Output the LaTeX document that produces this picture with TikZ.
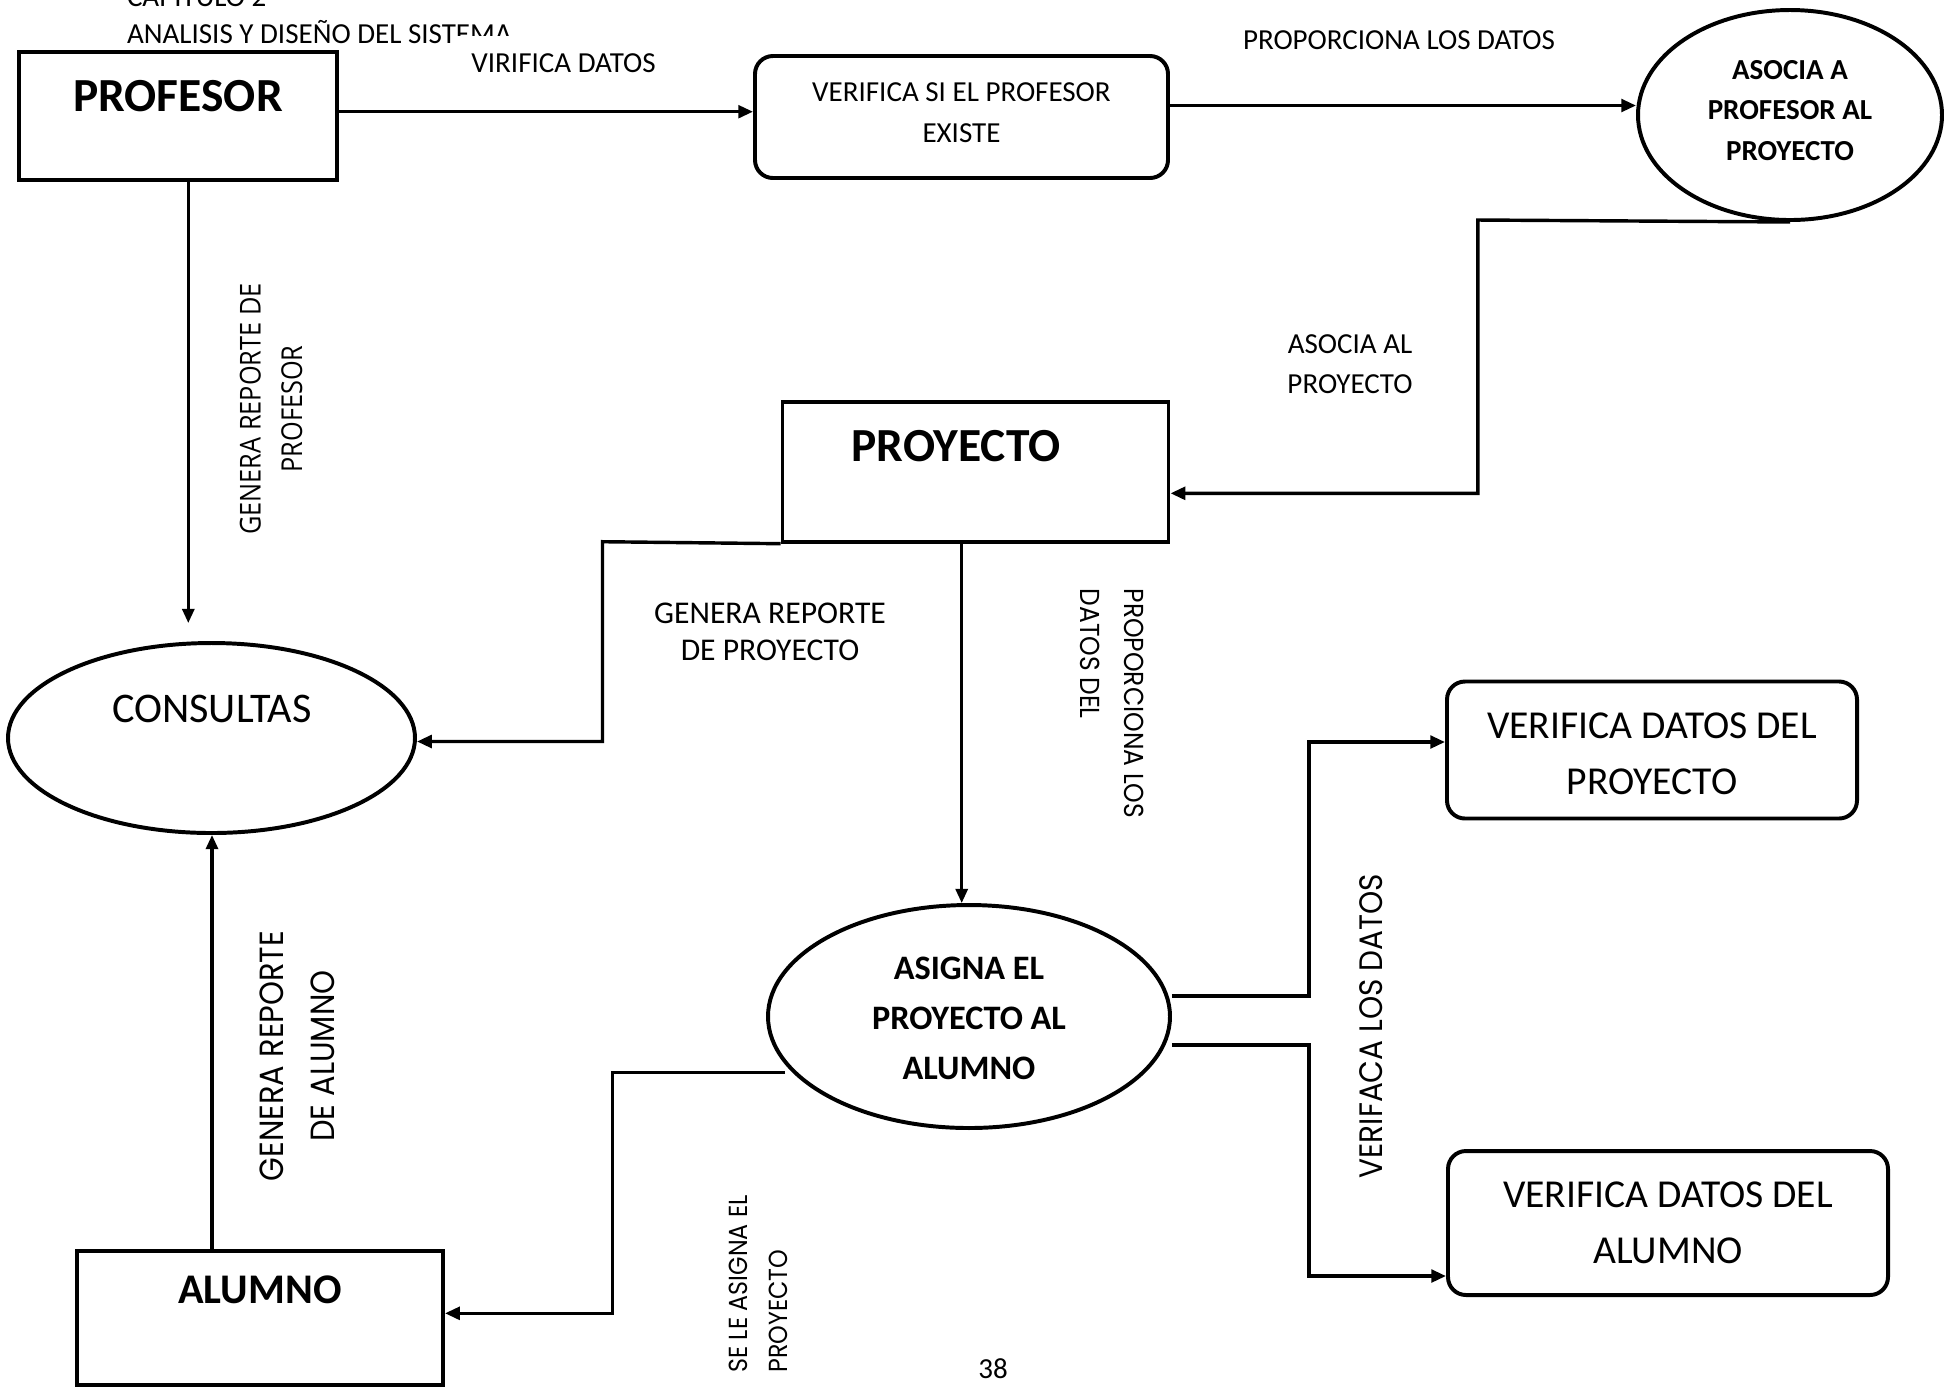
\documentclass[tikz,border=0pt]{standalone}
\usepackage{fontspec}
\setmainfont{Carlito}
\newfontfamily\geofont[FakeStretch=0.91]{Poppins}
\newfontfamily\opfont[FakeStretch=0.88]{Open Sans}
\usetikzlibrary{shapes.geometric,arrows.meta}
\def\pxu{0.379pt}
\begin{document}
\begin{tikzpicture}[x=\pxu,y=-\pxu,
  boxst/.style={draw, line width=1.5pt, rectangle, inner sep=0pt},
  roundst/.style={draw, line width=1.5pt, rectangle, rounded corners=6.8pt, inner sep=0pt},
  ovalst/.style={draw, line width=1.5pt, ellipse, inner sep=0pt},
  flow/.style={line width=1.3pt, -{Triangle[length=5.6pt,width=4.8pt]}},
  thinflow/.style={line width=1.15pt, -{Triangle[length=5.4pt,width=4.6pt]}},
  txt/.style={font=\fontsize{11}{15.2}\selectfont, align=center, inner sep=0pt},
  rot/.style={inner sep=0pt},
]
\useasboundingbox (0,0) rectangle (1944,1387);

% page header
\node[txt, anchor=base west] (cap) at (126.5,6.5) {CAPITULO 2};
\node[txt, anchor=base west] (sis) at (126.5,43) {ANALISIS Y DISEÑO DEL SISTEMA};

% entities and processes
\node[boxst, minimum width=318*\pxu, minimum height=128*\pxu] (profesor) at (178,116) {};
\node[inner sep=0pt, font=\bfseries\fontsize{18}{20}\selectfont] (profesor-t) at (178,96) {PROFESOR};

\node[roundst, minimum width=413*\pxu, minimum height=122*\pxu] (verifprof) at (961.5,117) {};
\node[txt, font=\fontsize{11}{15.4}\selectfont] (verifprof-t) at (961.5,112.5)
      {VERIFICA SI EL PROFESOR\\EXISTE};

\node[ovalst, minimum width=304*\pxu, minimum height=210*\pxu] (asocia) at (1790,115) {};
\node[txt, font=\bfseries\fontsize{11}{15.2}\selectfont] (asocia-t) at (1790,110.5)
      {ASOCIA A\\PROFESOR AL\\PROYECTO};

\node[boxst, minimum width=386*\pxu, minimum height=140*\pxu] (proyecto) at (975.5,471.7) {};
\node[inner sep=0pt, font=\bfseries\fontsize{18}{20}\selectfont] (proyecto-t) at (956,446) {PROYECTO};

\node[ovalst, minimum width=407*\pxu, minimum height=190*\pxu] (consultas) at (211.5,738) {};
\node[inner sep=0pt, font=\fontsize{16}{18}\selectfont] (consultas-t) at (212,709) {CONSULTAS};

\node[ovalst, minimum width=402*\pxu, minimum height=223*\pxu] (asigna) at (969,1016.5) {};
\node[txt, font=\bfseries\fontsize{13}{19}\selectfont] (asigna-t) at (969,1018.5)
      {ASIGNA EL\\PROYECTO AL\\ALUMNO};

\node[boxst, minimum width=366*\pxu, minimum height=134*\pxu] (alumno) at (260,1318) {};
\node[inner sep=0pt, font=\bfseries\fontsize{16}{18}\selectfont] (alumno-t) at (260,1290) {ALUMNO};

\node[roundst, minimum width=410*\pxu, minimum height=137*\pxu] (vdproy) at (1652,750) {};
\node[txt, font=\fontsize{15}{21.2}\selectfont] (vdproy-t) at (1652,753.5)
      {VERIFICA DATOS DEL\\PROYECTO};

\node[roundst, minimum width=440*\pxu, minimum height=144*\pxu] (vdalum) at (1668,1223) {};
\node[txt, font=\fontsize{15}{21.2}\selectfont] (vdalum-t) at (1668,1222.5)
      {VERIFICA DATOS DEL\\ALUMNO};

% flow labels
\node[txt, fill=white, anchor=north west, minimum width=216*\pxu, minimum height=56*\pxu]
      (lblvir) at (455,35) {VIRIFICA DATOS};
\node[txt] (lblprop) at (1399,40) {PROPORCIONA LOS DATOS};
\node[txt] (lblaso) at (1350,364.5) {ASOCIA AL\\PROYECTO};
\node[txt, font=\fontsize{12}{14}\selectfont] (lblgrp) at (770,632) {GENERA REPORTE\\DE PROYECTO};
\node[rot, rotate=90, align=center, font=\opfont\fontsize{10.9}{15.7}\selectfont]
      (lblgpf) at (271,409) {GENERA REPORTE DE\\PROFESOR};
\node[rot, rotate=-90, anchor=north west, align=left, font=\geofont\fontsize{10.4}{16.7}\selectfont]
      (lblpdd) at (1144,588) {PROPORCIONA LOS\\DATOS DEL};
\node[rot, rotate=90, align=center, font=\geofont\fontsize{12.3}{18}\selectfont]
      (lblver) at (1371,1026) {VERIFACA LOS DATOS};
\node[rot, rotate=90, align=center, font=\geofont\fontsize{12.7}{19.3}\selectfont]
      (lblgra) at (297,1056) {GENERA REPORTE\\DE ALUMNO};
\node[rot, rotate=90, anchor=north west, align=left, font=\geofont\fontsize{9.9}{15}\selectfont]
      (lblasg) at (729,1373) {SE LE ASIGNA EL\\PROYECTO};

\node[txt] (pagenum) at (993,1369) {38};

% connectors
\coordinate (cqtop) at (188.3,623);
\coordinate (asgl) at (785,1072.7);

\draw[flow] (profesor.east |- 0,111.7) -- (verifprof.west |- 0,111.7);
\draw[flow] (verifprof.east |- 0,105.5) -- (asocia.west |- 0,105.5);
\draw[flow] (asocia.south) -- (1477.8,220) -- (1477.8,493.3) -- (proyecto.east |- 0,493.3);
\draw[flow] (proyecto.south west) -- (602.5,541.7) -- (602.5,741.5) -- (consultas.east |- 0,741.5);
\draw[thinflow] (proyecto.south -| 961.7,0) -- (asigna.north -| 961.7,0);
\draw[thinflow] (profesor.south -| 188.3,0) -- (cqtop);
\draw[thinflow] (alumno.north -| 212,0) -- (consultas.south -| 212,0);
\draw[flow] (asgl) -- (612.5,1072.7) -- (612.5,1313.3) -- (alumno.east |- 0,1313.3);
\draw[flow] (asigna.east |- 0,996) -- (1309,996) -- (1309,742) -- (vdproy.west |- 0,742);
\draw[flow] (asigna.east |- 0,1045) -- (1309,1045) -- (1309,1276) -- (vdalum.west |- 0,1276);
\end{tikzpicture}
\end{document}
